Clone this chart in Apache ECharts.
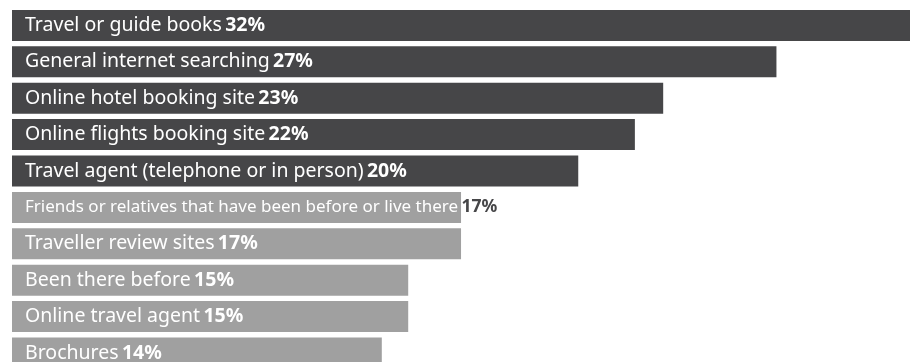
<!DOCTYPE html>
<html><head><meta charset="utf-8">
<script src="https://cdn.jsdelivr.net/npm/echarts@6/dist/echarts.min.js"></script>
<style>html,body{margin:0;padding:0;background:#fff}#c{width:910px;height:362px}</style>
</head><body><div id="c"></div>
<script>
const categories = ["Travel or guide books","General internet searching","Online hotel booking site","Online flights booking site","Travel agent (telephone or in person)","Friends or relatives that have been before or live there","Traveller review sites","Been there before","Online travel agent","Brochures"];
const values = [32,27,23,22,20,17,17,15,15,14];
const darkCount = 5;

const FONT = 'Noto Sans';
const chart = echarts.init(document.getElementById('c'));
function lab(i, v) {
  const out = i === 5;
  return out ? '{a2|' + categories[i] + '} {c|' + v + '%}'
             : '{a|' + categories[i] + '} {b|' + v + '%}';
}
const rich = {
  a: {color:'#fff', fontFamily:FONT, fontSize:19.5},
  b: {color:'#fff', fontFamily:FONT, fontSize:19.5, fontWeight:'bold'},
  a2: {color:'#fff', fontFamily:FONT, fontSize:17},
  c: {color:'#464648', fontFamily:FONT, fontSize:17.5, fontWeight:'bold'}
};
const darkData = values.map((v,i)=> i<darkCount ? v : '-');
const lightData = values.map((v,i)=> i>=darkCount ? v : '-');
const labelCfg = {show:true, position:'insideLeft', distance:13, formatter:p=>lab(p.dataIndex,p.value), rich};
chart.setOption({
  animation:false,
  grid:{left:12, width:906, top:7.2, height:364, containLabel:false, outerBoundsMode:'none'},
  xAxis:[{type:'value', min:0, max:32, show:false},{type:'value', min:0, max:34.3, show:false}],
  yAxis:{type:'category', data:categories, inverse:true, show:false},
  series:[
    {type:'bar', xAxisIndex:0, data:darkData, barWidth:31, barGap:'-100%', itemStyle:{color:'#464648'}, label:labelCfg},
    {type:'bar', xAxisIndex:1, data:lightData, barWidth:31, barGap:'-100%', itemStyle:{color:'#a0a0a0'}, label:labelCfg}
  ]
});
</script></body></html>
